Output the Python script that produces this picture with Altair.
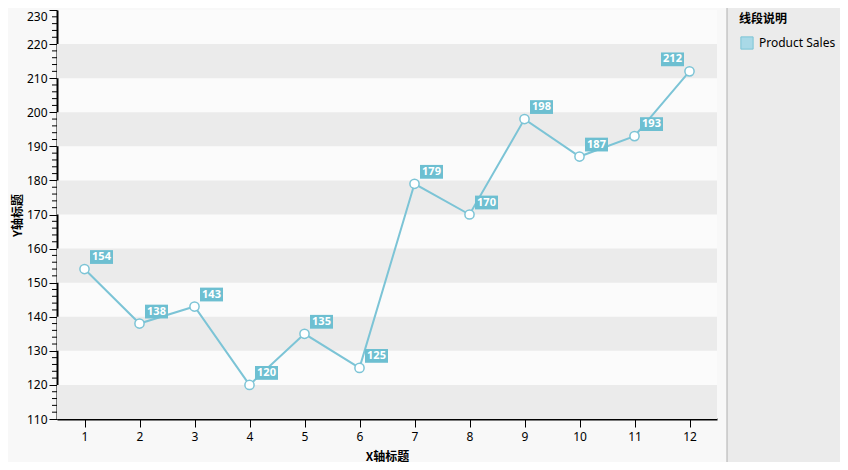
import altair as alt
import pandas as pd

x_vals = [1, 2, 3, 4, 5, 6, 7, 8, 9, 10, 11, 12]
sales = [154, 138, 143, 120, 135, 125, 179, 170, 198, 187, 193, 212]
series_name = "Product Sales"
band_starts = [110, 130, 150, 170, 190, 210]
major_ticks = list(range(110, 231, 10))
minor_ticks = [v for v in range(110, 231, 2) if v % 10 != 0]

df = pd.DataFrame({"x": x_vals, "y": sales, "series": [series_name] * len(x_vals)})
bands = pd.DataFrame({"y0": band_starts, "y1": [b + 10 for b in band_starts]})
minor = pd.DataFrame({"t": minor_ticks})

LINE = "#7cc4d6"
BOX = "#6dbfd1"
xs = alt.Scale(domain=[0.5, 12.5], nice=False, zero=False)
ys = alt.Scale(domain=[110, 230], nice=False, zero=False)

xaxis = alt.Axis(values=x_vals, format="d", grid=False, tickSize=8, tickColor="black",
                 domainColor="black", domainWidth=2, labelFontSize=12,
                 labelColor="black", labelPadding=4, labelFont="Noto Sans",
                 titleFont="Noto Sans CJK SC", titleFontSize=12, titleFontWeight="bold",
                 titleColor="black", titlePadding=9)
yaxis = alt.Axis(values=major_ticks, format="d", grid=False, labelOverlap=False,
                 tickSize=8, tickColor="black", domainColor="black", domainWidth=2,
                 labelFontSize=12, labelColor="black", labelPadding=2,
                 labelFont="Noto Sans",
                 labelOffset={"condition": {"test": "datum.value == 230", "value": 6}, "value": 0},
                 titleFont="Noto Sans CJK SC", titleFontSize=12, titleFontWeight="bold",
                 titleColor="black", titleX=-40, titleY=205, titleAngle=270,
                 titleAlign="center", titleBaseline="middle")

def X(field):
    return alt.X(field, scale=xs, title="X轴标题", axis=xaxis)

def Y(field):
    return alt.Y(field, scale=ys, title="Y轴标题", axis=yaxis)

panel = alt.Chart(pd.DataFrame({"a": [0]})).mark_rect(
    fill="#ebebeb", stroke="#b0b0b0", strokeWidth=1
).encode(
    x=alt.value(670), x2=alt.value(800), y=alt.value(-12), y2=alt.value(460)
)

band_layer = alt.Chart(bands).mark_rect(fill="#ebebeb").encode(
    x=alt.value(0), x2=alt.value(660),
    y=Y("y0:Q"), y2="y1:Q",
)

minor_layer = alt.Chart(minor).mark_rule(color="black", strokeWidth=1).encode(
    x=alt.value(-5), x2=alt.value(0),
    y=Y("t:Q"),
)

line = alt.Chart(df).mark_line(strokeWidth=2).encode(
    x=X("x:Q"),
    y=Y("y:Q"),
    color=alt.Color("series:N", scale=alt.Scale(range=[LINE]),
                    legend=alt.Legend(title="线段说明", orient="none", legendX=682, legendY=4,
                                      symbolType="square", symbolFillColor="#a9d9e7",
                                      symbolStrokeColor="#7a8a90", symbolStrokeWidth=1,
                                      symbolSize=150, symbolOffset=1, labelOffset=5,
                                      titleFont="Noto Sans CJK SC",
                                      titleFontSize=12, titleFontWeight="bold", titleColor="black",
                                      labelFont="Noto Sans", labelFontSize=12, labelColor="black",
                                      titlePadding=10)),
)

points = alt.Chart(df).mark_point(filled=True, fill="white", stroke=LINE, strokeWidth=1.5,
                                  size=85, opacity=1).encode(x=X("x:Q"), y=Y("y:Q"))

box_path = "M-1,-0.6H1V0.6H-1Z"

def labels(filter_expr, dx):
    base = alt.Chart(df).transform_filter(filter_expr)
    box = base.mark_point(shape=box_path, size=529, filled=True, fill=BOX, opacity=1,
                          xOffset=dx, yOffset=-12).encode(x=X("x:Q"), y=Y("y:Q"))
    txt = base.mark_text(color="white", fontSize=11, fontWeight="bold", font="Noto Sans",
                         dx=dx, dy=-12, baseline="middle", align="center").encode(
        x=X("x:Q"), y=Y("y:Q"), text="y:Q")
    return box + txt

chart = alt.layer(
    panel, band_layer, minor_layer, line, points,
    labels("datum.x < 12", 17), labels("datum.x == 12", -17)
).properties(
    width=660, height=409,
    autosize=alt.AutoSizeParams(type="none"),
    padding={"left": 49, "top": 2, "right": 123, "bottom": 43},
    background="#f8f8f8",
).configure_view(fill="#fbfbfb", stroke=None)

chart.save("out.html", embed_options={"renderer": "svg", "actions": False})
